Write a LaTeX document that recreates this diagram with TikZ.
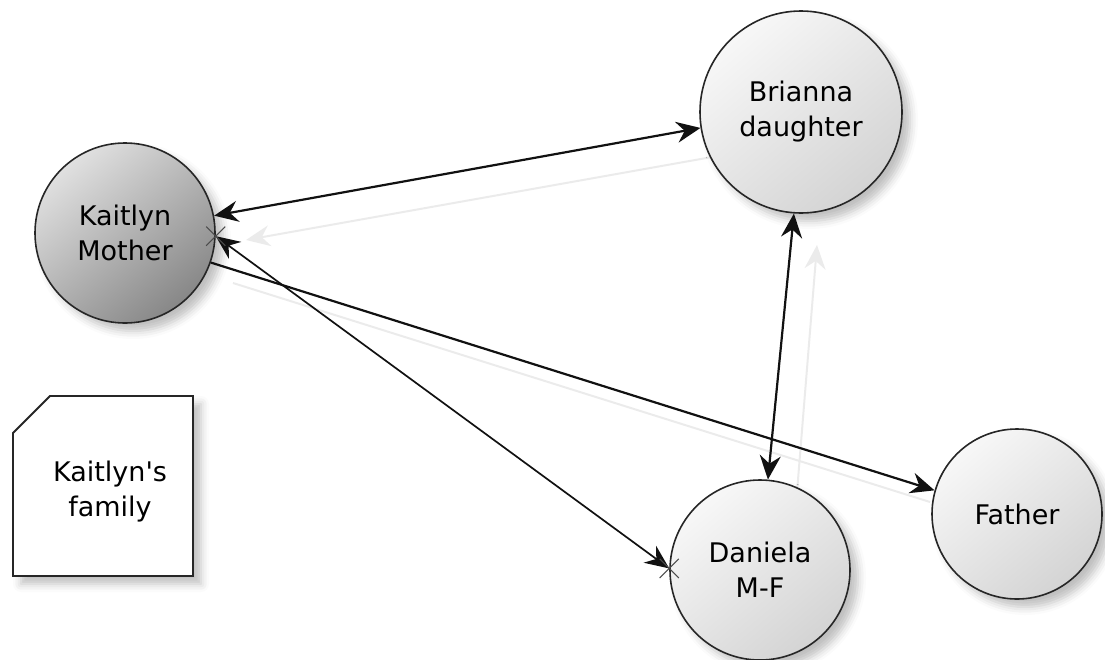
\documentclass[tikz,border=0pt]{standalone}
\usepackage{fontspec}
\setmainfont{DejaVu Sans}
\usetikzlibrary{arrows.meta,shadows.blur,shapes.misc}
\definecolor{ghostc}{HTML}{EBEBEB}
\definecolor{edgec}{HTML}{111111}
\begin{document}
\begin{tikzpicture}[x=1pt,y=-1pt,
  >={Stealth[length=24pt,width=21pt,inset=8pt]},
  shadowed/.style={blur shadow={shadow xshift=8pt,shadow yshift=-8pt,shadow blur radius=8pt,shadow opacity=25}},
  person/.style={circle,draw=black!85,line width=1.6pt,inner sep=0pt,align=center,
    font=\fontsize{27}{35}\selectfont,shadowed},
  lightp/.style={person,shading=axis,top color=white!97!black,bottom color=black!17,shading angle=40},
  darkp/.style={person,shading=axis,top color=black!12,bottom color=black!47,shading angle=40},
  link/.style={draw=edgec,line width=2.2pt},
  thinlink/.style={draw=edgec,line width=1.7pt},
  ghost/.style={draw=ghostc,line width=2pt},
  xmark/.style={cross out,draw=black!70,line width=1.1pt,minimum size=18pt,inner sep=0pt},
  notetext/.style={align=center,font=\fontsize{27}{35}\selectfont}
]
\useasboundingbox (0,0) rectangle (1105,659);

% faint shadow connectors
\coordinate (g1a) at (712,157);
\coordinate (g1b) at (246,240);
\coordinate (g3a) at (233,283);
\coordinate (g3b) at (930,502);
\coordinate (g4a) at (797,492);
\coordinate (g4b) at (817,245);
\draw[ghost,->] (g1a) -- (g1b);
\draw[ghost] (g3a) -- (g3b);
\draw[ghost,->] (g4a) -- (g4b);

% note
\draw[line width=1.8pt,draw=black!85,fill=white,shadowed]
  (13,433) -- (50,396) -- (193,396) -- (193,576) -- (13,576) -- cycle;
\node[notetext] (note) at (110,492) {Kaitlyn\textquotesingle s\\family};

% people
\node[darkp,minimum size=180pt] (K) at (125,233) {Kaitlyn\\Mother};
\node[lightp,minimum size=202pt] (B) at (801,112) {Brianna\\daughter};
\node[lightp,minimum size=180pt] (D) at (760,570) {Daniela\\M-F};
\node[lightp,minimum size=170pt] (F) at (1017,514) {Father};

% connectors
\draw[link,<->] (K.11) -- (B.189);
\draw[thinlink,<->] (K.-2) -- (D.179);
\draw[link,->] (K.-19) -- (F.164);
\draw[link,<->] (B.-94.5) -- (D.85.5);

% cross marks
\node[xmark] (xk) at (K.-2) {};
\node[xmark] (xd) at (D.179) {};
\end{tikzpicture}
\end{document}
